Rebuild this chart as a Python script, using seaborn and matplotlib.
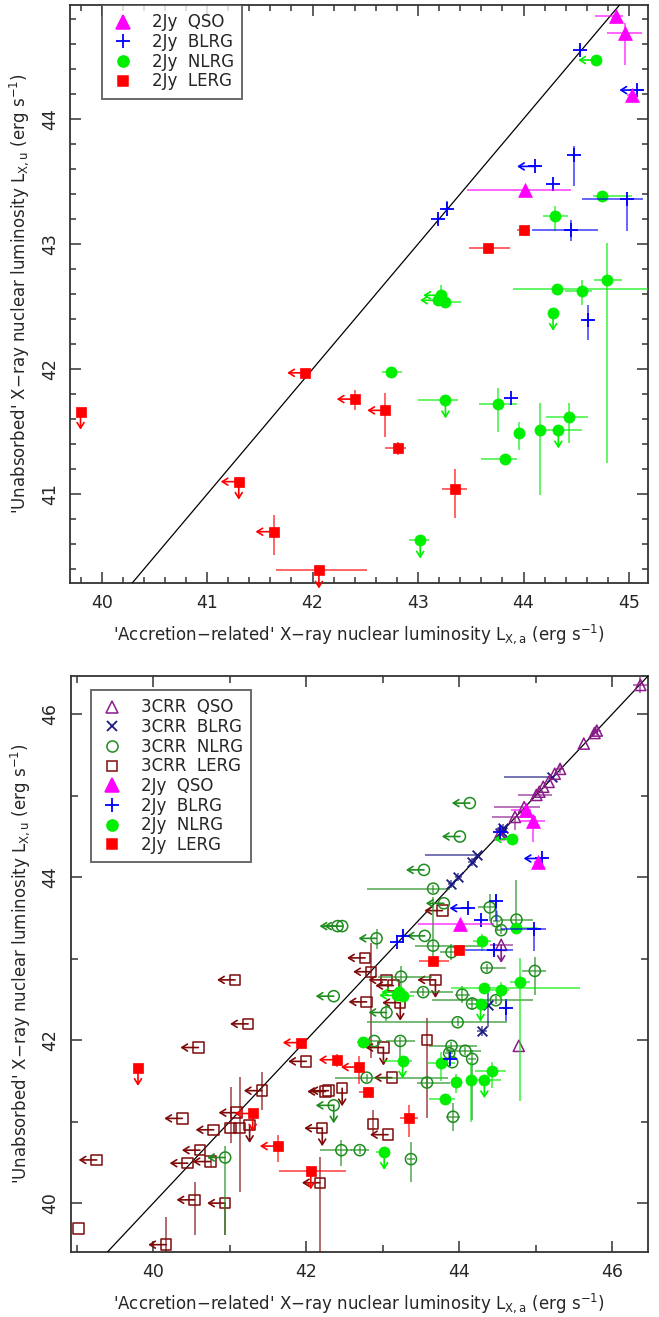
import matplotlib
matplotlib.use("Agg")
import matplotlib.pyplot as plt
from matplotlib.lines import Line2D
from matplotlib.ticker import MultipleLocator
import seaborn as sns

# ---- 2Jy sample (both panels) ----
# x, y in log L; dx / dy = (minus, plus) error; lim: 'l' = left arrow, 'd' = down arrow
qso2_x = [44.88, 44.96, 45.03, 44.01]
qso2_y = [44.82, 44.69, 44.19, 43.43]
qso2_dx = [(0.20, 0.06), (0.17, 0.16), (0.05, 0.05), (0.55, 0.44)]
qso2_dy = [(0.0, 0.0), (0.26, 0.08), (0.0, 0.0), (0.0, 0.0)]
qso2_lim = ['', '', '', '']

blrg2_x = [44.54, 45.08, 44.48, 44.11, 44.28, 44.98, 44.45, 43.27, 43.19, 44.61, 43.88]
blrg2_y = [44.55, 44.23, 43.71, 43.62, 43.48, 43.36, 43.11, 43.28, 43.20, 42.39, 41.77]
blrg2_dx = [(0, 0), (0.05, 0.05), (0, 0), (0.05, 0.05), (0, 0), (0.43, 0.15), (0.37, 0.26),
            (0.03, 0.03), (0, 0), (0.04, 0.06), (0, 0)]
blrg2_dy = [(0.04, 0.04), (0, 0), (0.25, 0.07), (0, 0), (0, 0), (0.26, 0.03), (0.09, 0.08),
            (0.06, 0.06), (0.03, 0.03), (0.16, 0.12), (0, 0)]
blrg2_lim = ['', 'l', '', 'l', '', '', '', '', '', '', '']

nlrg2_x = [44.69, 44.74, 44.30, 44.79, 44.32, 44.55, 43.22, 43.19, 43.26, 42.74,
           43.26, 43.76, 43.96, 44.16, 44.33, 44.43, 43.82, 43.02, 44.28]
nlrg2_y = [44.47, 43.38, 43.22, 42.71, 42.64, 42.62, 42.59, 42.55, 42.54, 41.98,
           41.75, 41.72, 41.49, 41.51, 41.51, 41.62, 41.28, 40.63, 42.45]
nlrg2_dx = [(0, 0), (0.08, 0.29), (0.12, 0.12), (0.12, 0.14), (0.42, 1.26), (0.16, 0.10),
            (0, 0), (0, 0), (0.11, 0.15), (0.08, 0.11), (0.26, 0.12), (0.18, 0.18),
            (0, 0), (0, 0), (0.22, 0.22), (0.22, 0.18), (0.22, 0.12), (0.11, 0.08), (0, 0)]
nlrg2_dy = [(0, 0), (0, 0), (0.12, 0.08), (1.46, 0.30), (0, 0), (0.11, 0.09),
            (0.08, 0.08), (0, 0), (0.05, 0.05), (0.04, 0.04), (0, 0), (0.22, 0.13),
            (0.14, 0.09), (0.52, 0.22), (0, 0), (0.21, 0.11), (0.03, 0.03), (0, 0), (0, 0)]
nlrg2_lim = ['l', '', '', '', '', '', 'l', 'l', '', '', 'd', '', '', '', 'd', '', '', 'd', 'd']

lerg2_x = [44.00, 43.66, 41.93, 39.80, 42.40, 42.69, 42.81, 41.30, 43.35, 41.63, 42.06]
lerg2_y = [43.11, 42.97, 41.97, 41.66, 41.76, 41.67, 41.37, 41.10, 41.04, 40.70, 40.39]
lerg2_dx = [(0.06, 0.06), (0.18, 0.21), (0, 0), (0, 0), (0, 0), (0, 0), (0.12, 0.08),
            (0, 0), (0.12, 0.11), (0, 0), (0.41, 0.46)]
lerg2_dy = [(0, 0), (0.03, 0.03), (0, 0), (0, 0), (0.09, 0.07), (0.21, 0.14), (0.06, 0.05),
            (0, 0), (0.23, 0.16), (0.19, 0.13), (0, 0)]
lerg2_lim = ['', '', 'l', 'd', 'l', 'l', '', 'ld', '', 'l', 'd']

# ---- 3CRR sample (lower panel only) ----
qso3_x = [46.37, 45.80, 45.77, 45.63, 45.32, 45.25, 45.17, 45.10, 45.05, 45.01,
          44.85, 44.73, 44.53, 44.55, 44.78]
qso3_y = [46.36, 45.80, 45.77, 45.64, 45.33, 45.27, 45.17, 45.11, 45.05, 45.01,
          44.86, 44.74, 44.53, 43.17, 41.93]
qso3_dx = [(0.10, 0.10), (0.05, 0.05), (0.05, 0.05), (0, 0), (0.05, 0.05), (0, 0), (0, 0),
           (0, 0), (0, 0), (0.24, 0.20), (0.39, 0.21), (0.30, 0.28), (0, 0), (0.14, 0.16), (0, 0)]
qso3_dy = [(0.10, 0.10), (0.05, 0.05), (0.05, 0.05), (0, 0), (0.05, 0.05), (0, 0), (0, 0),
           (0, 0), (0, 0), (0, 0), (0, 0), (0.16, 0), (0, 0), (0, 0), (0, 0)]
qso3_lim = ['', '', '', '', '', '', '', '', '', '', '', '', '', 'd', '']

blrg3_x = [45.22, 44.56, 44.53, 44.58, 44.23, 44.17, 43.99, 43.90, 44.38, 44.30]
blrg3_y = [45.23, 44.56, 44.54, 44.60, 44.27, 44.19, 44.00, 43.92, 42.43, 42.11]
blrg3_dx = [(0.63, 0), (0.05, 0.05), (0, 0), (0.05, 0.05), (0.68, 0), (0.05, 0.05),
            (0.05, 0.05), (0.05, 0.05), (0, 0), (0.06, 0.06)]
blrg3_dy = [(0, 0), (0.05, 0.05), (0, 0), (0.05, 0.05), (0, 0), (0.05, 0.05),
            (0.05, 0.05), (0.05, 0.05), (0.27, 0.15), (0.06, 0.06)]
blrg3_lim = ['', '', '', '', '', '', '', '', '', '']

nlrg3_x = [44.14, 44.01, 43.54, 43.66, 43.80, 44.40, 44.49, 44.75, 44.55, 43.55,
           42.92, 43.66, 43.90, 42.41, 42.47, 42.36, 44.36, 44.99, 44.04, 44.17,
           44.48, 43.98, 43.05, 43.24, 43.53, 42.89, 43.23, 43.90, 43.87, 44.08,
           44.17, 43.91, 42.79, 43.58, 42.36, 43.92, 42.46, 42.70, 43.37, 40.94]
nlrg3_y = [44.91, 44.50, 44.09, 43.86, 43.68, 43.63, 43.46, 43.48, 43.35, 43.28,
           43.25, 43.16, 43.08, 43.40, 43.40, 42.54, 42.89, 42.85, 42.56, 42.45,
           42.49, 42.22, 42.34, 42.78, 42.59, 41.99, 41.99, 41.93, 41.84, 41.87,
           41.77, 41.73, 41.54, 41.48, 41.20, 41.06, 40.65, 40.65, 40.54, 40.56]
nlrg3_dx = [(0, 0), (0, 0), (0, 0), (0.87, 0.22), (0, 0), (0.15, 0.10), (0.05, 0.05),
            (0.21, 0.22), (0.05, 0.05), (0, 0), (0, 0), (0.24, 0.61), (0.15, 0.15), (0, 0),
            (0, 0), (0, 0), (0.08, 0.25), (0.17, 0.14), (0.10, 0.10), (0.05, 0.05),
            (0.84, 0.49), (1.19, 0.64), (0, 0), (0.30, 0.40), (0.17, 0.39), (0.15, 0.10),
            (0.18, 0.19), (0.30, 0.33), (0.05, 0.05), (0.25, 0.20), (0.05, 0.05), (0, 0),
            (0.41, 1.07), (0.13, 0.30), (0, 0), (0.09, 0.09), (0.28, 0.14), (0.12, 0.12),
            (0.05, 0.05), (0, 0)]
nlrg3_dy = [(0, 0), (0, 0), (0, 0), (0.05, 0.05), (0, 0), (0.17, 0.17), (0.12, 0.12),
            (0.17, 0.48), (0.05, 0.05), (0, 0), (0.13, 0.12), (0.18, 0.60), (0.10, 0.10),
            (0, 0), (0, 0), (0, 0), (0.05, 0.05), (0.30, 0.17), (0.10, 0.10), (0.08, 0.08),
            (0.05, 0.05), (0.05, 0.05), (0.10, 0.10), (0.13, 0.13), (0.05, 0.05), (0, 0),
            (0.22, 0.05), (0.05, 0.05), (0.05, 0.05), (0.05, 0.05), (0.75, 0.11), (0, 0),
            (0.05, 0.05), (0.05, 0.05), (0, 0), (0.17, 0.17), (0.20, 0.13), (0.05, 0.05),
            (0.28, 0.21), (0.95, 0.14)]
nlrg3_lim = ['l', 'l', 'l', '', 'l', '', '', '', '', 'l',
             'l', '', '', 'l', 'l', 'l', '', '', '', '',
             '', '', 'l', '', '', '', '', '', '', '',
             '', '', '', '', 'ld', '', '', '', '', 'l']

lerg3_x = [43.78, 42.77, 42.85, 42.79, 43.05, 43.14, 43.23, 43.69, 43.58, 43.01,
           42.00, 43.12, 42.29, 42.25, 42.47, 42.21, 42.87, 43.07, 42.18, 41.07,
           41.24, 40.59, 41.42, 40.38, 41.09, 41.13, 41.01, 40.79, 41.26, 40.61,
           40.45, 40.75, 40.54, 40.94, 40.17, 39.26, 39.02]
lerg3_y = [43.59, 43.01, 42.84, 42.47, 42.74, 42.67, 42.46, 42.74, 42.00, 41.91,
           41.74, 41.54, 41.38, 41.37, 41.41, 40.92, 40.97, 40.84, 40.25, 42.74,
           42.20, 41.91, 41.38, 41.04, 41.11, 40.92, 40.92, 40.90, 40.96, 40.65,
           40.49, 40.51, 40.04, 40.00, 39.49, 40.53, 39.69]
lerg3_dx = [(0, 0)] * 37
lerg3_dy = [(0, 0), (0, 0), (1.06, 0.35), (0, 0), (0, 0), (0, 0), (0, 0), (0, 0), (0.96, 0.27),
            (0, 0), (0, 0), (0, 0), (0, 0), (0, 0), (0, 0), (0, 0), (0.11, 0.17), (0, 0),
            (0.90, 0.32), (0, 0), (0, 0), (0, 0), (0.24, 0.23), (0, 0), (0, 0), (0.78, 0.63),
            (0.18, 0.50), (0, 0), (0, 0), (0, 0), (0, 0), (0.07, 0.07), (0.43, 0.22),
            (0.39, 0), (0.10, 0.34), (0, 0), (0, 0)]
lerg3_lim = ['l', 'l', 'l', 'l', 'l', 'l', 'ld', 'ld', '', 'ld',
             'l', 'l', 'l', 'l', 'd', 'ld', '', 'l', 'l', 'l',
             'l', 'l', 'l', 'l', 'l', '', '', 'l', 'd', 'l',
             'l', 'l', 'l', 'l', 'l', 'l', '']

C_QSO2, C_BLRG2, C_NLRG2, C_LERG2 = '#FF00FF', '#0000FF', '#00EE00', '#FF0000'
C_QSO3, C_BLRG3, C_NLRG3, C_LERG3 = '#8B1A8B', '#1A1A80', '#1E8C1E', '#7F0A0A'


def draw(ax, x, y, dx, dy, lim, color, marker, ms, filled, z):
    xerr = [[d[0] for d in dx], [d[1] for d in dx]]
    yerr = [[d[0] for d in dy], [d[1] for d in dy]]
    ax.errorbar(x, y, xerr=xerr, yerr=yerr, fmt='none', ecolor=color,
                elinewidth=1.3, alpha=0.65, capsize=0, zorder=z)
    for xi, yi, li in zip(x, y, lim):
        if 'l' in li:
            ax.annotate('', xy=(xi, yi), xytext=(-13, 0), textcoords='offset points',
                        arrowprops=dict(arrowstyle='<-,head_length=0.4,head_width=0.25',
                                        color=color, lw=1.2, shrinkA=0, shrinkB=0),
                        zorder=z)
        if 'd' in li:
            ax.annotate('', xy=(xi, yi), xytext=(0, -13), textcoords='offset points',
                        arrowprops=dict(arrowstyle='<-,head_length=0.4,head_width=0.25',
                                        color=color, lw=1.2, shrinkA=0, shrinkB=0),
                        zorder=z)
    if marker in ('+', 'x'):
        sns.scatterplot(x=x, y=y, ax=ax, marker=marker, s=ms ** 2, color=color,
                        linewidth=1.3, zorder=z + 0.5, legend=False)
    elif filled:
        sns.scatterplot(x=x, y=y, ax=ax, marker=marker, s=ms ** 2, color=color,
                        edgecolor=color, linewidth=0.5, zorder=z + 0.5, legend=False)
    else:
        sns.scatterplot(x=x, y=y, ax=ax, marker=marker, s=ms ** 2, facecolor='none',
                        edgecolor=color, linewidth=1.1, zorder=z + 0.5, legend=False)


def draw_2jy(ax):
    draw(ax, lerg2_x, lerg2_y, lerg2_dx, lerg2_dy, lerg2_lim, C_LERG2, 's', 7, True, 10)
    draw(ax, nlrg2_x, nlrg2_y, nlrg2_dx, nlrg2_dy, nlrg2_lim, C_NLRG2, 'o', 8, True, 11)
    draw(ax, blrg2_x, blrg2_y, blrg2_dx, blrg2_dy, blrg2_lim, C_BLRG2, '+', 10, True, 12)
    draw(ax, qso2_x, qso2_y, qso2_dx, qso2_dy, qso2_lim, C_QSO2, '^', 10, True, 13)


def style_axes(ax, xlim, ylim, major, minor):
    ax.set_xlim(*xlim)
    ax.set_ylim(*ylim)
    ax.plot([30, 50], [30, 50], color='black', lw=0.9, zorder=5)
    for a in (ax.xaxis, ax.yaxis):
        a.set_major_locator(MultipleLocator(major))
        a.set_minor_locator(MultipleLocator(minor))
    ax.tick_params(which='both', direction='in', top=True, right=True, width=1.1,
                   color='#333333', labelsize=12.5)
    ax.tick_params(which='major', length=8, pad=8)
    ax.tick_params(which='minor', length=5 if minor == 1 else 4)
    for lab in ax.get_yticklabels():
        lab.set_rotation(90)
        lab.set_va('center')
    for s in ax.spines.values():
        s.set_linewidth(1.3)
        s.set_color('#333333')
    ax.set_xlabel("'Accretion\u2212related' X\u2212ray nuclear luminosity "
                  r"L$_{\mathrm{X,a}}$ (erg s$^{-1}$)", fontsize=12, labelpad=7)
    ax.set_ylabel("'Unabsorbed' X\u2212ray nuclear luminosity "
                  r"L$_{\mathrm{X,u}}$ (erg s$^{-1}$)", fontsize=12, labelpad=7)


def handle(marker, color, ms, filled):
    if marker in ('+', 'x'):
        return Line2D([], [], ls='none', marker=marker, ms=ms, mec=color, mew=1.3)
    return Line2D([], [], ls='none', marker=marker, ms=ms, mec=color,
                  mfc=color if filled else 'none', mew=1.1)


def add_legend(ax, handles, labels, anchor):
    leg = ax.legend(handles, labels, loc='upper left', bbox_to_anchor=anchor,
                    borderaxespad=0, fontsize=12, frameon=True, fancybox=False,
                    labelspacing=0.1, handletextpad=0.9, borderpad=0.5, handlelength=1.6)
    leg.get_frame().set_edgecolor('#444444')
    leg.get_frame().set_linewidth(1.4)


sns.set_style('ticks')
plt.rcParams['font.family'] = ['DejaVu Sans']

fig = plt.figure(figsize=(6.59, 13.17), dpi=100)
ax1 = fig.add_axes([70 / 659, 1 - 583 / 1317, 578 / 659, 578 / 1317])
ax2 = fig.add_axes([70.7 / 659, 1 - 1252 / 1317, 577.3 / 659, 576 / 1317])

# upper panel: 2Jy only
draw_2jy(ax1)
style_axes(ax1, (39.70, 45.18), (40.29, 44.91), 1, 0.2)
h2 = [handle('^', C_QSO2, 10, True), handle('+', C_BLRG2, 10, True),
      handle('o', C_NLRG2, 8, True), handle('s', C_LERG2, 7, True)]
l2 = ['2Jy  QSO', '2Jy  BLRG', '2Jy  NLRG', '2Jy  LERG']
add_legend(ax1, h2, l2, (31.7 / 578, 1.0))

# lower panel: 3CRR + 2Jy
draw(ax2, lerg3_x, lerg3_y, lerg3_dx, lerg3_dy, lerg3_lim, C_LERG3, 's', 7.5, False, 6)
draw(ax2, nlrg3_x, nlrg3_y, nlrg3_dx, nlrg3_dy, nlrg3_lim, C_NLRG3, 'o', 8, False, 7)
draw(ax2, blrg3_x, blrg3_y, blrg3_dx, blrg3_dy, blrg3_lim, C_BLRG3, 'x', 7, False, 8)
draw(ax2, qso3_x, qso3_y, qso3_dx, qso3_dy, qso3_lim, C_QSO3, '^', 8, False, 9)
draw_2jy(ax2)
style_axes(ax2, (38.92, 46.47), (39.40, 46.47), 2, 1)
h3 = [handle('^', C_QSO3, 8, False), handle('x', C_BLRG3, 7, False),
      handle('o', C_NLRG3, 8, False), handle('s', C_LERG3, 7.5, False)] + h2
l3 = ['3CRR  QSO', '3CRR  BLRG', '3CRR  NLRG', '3CRR  LERG'] + l2
add_legend(ax2, h3, l3, (20 / 577.3, 1 - 14 / 576))

fig.savefig('out.png', dpi=100)
